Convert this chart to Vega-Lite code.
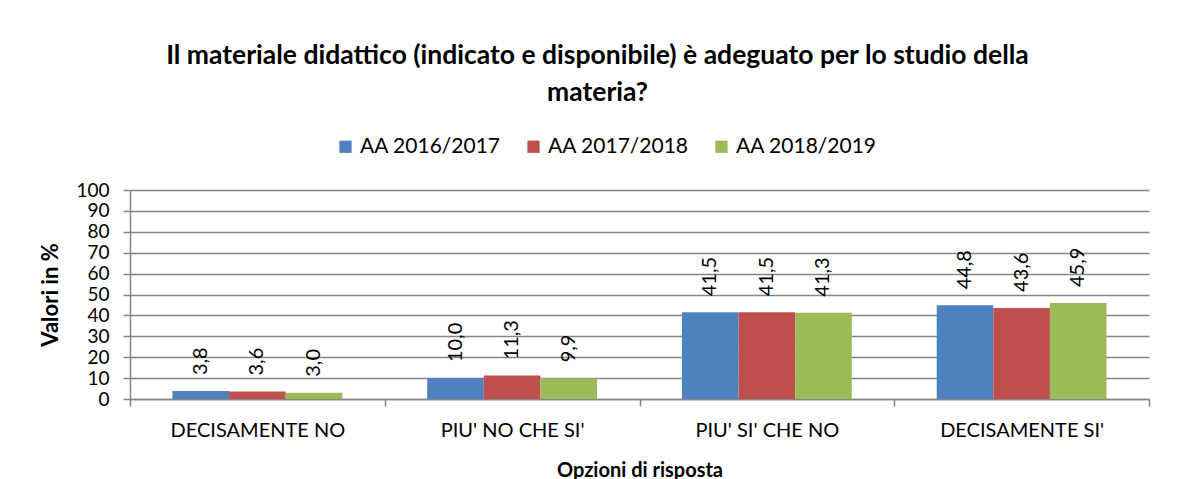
{
  "$schema": "https://vega.github.io/schema/vega-lite/v6.json",
  "width": 1019,
  "height": 209,
  "autosize": "none",
  "padding": {"left": 130, "top": 190, "right": 41, "bottom": 80},
  "config": {
    "locale": {"number": {"decimal": ",", "thousands": ".", "grouping": [3], "currency": ["", " €"]}},
    "font": "Lato",
    "view": {"stroke": null}
  },
  "title": {
    "text": ["Il materiale didattico (indicato e disponibile) è adeguato per lo studio della", "materia?"],
    "font": "Lato",
    "fontSize": 26.5,
    "fontWeight": "bold",
    "color": "black",
    "anchor": "middle",
    "dx": -42,
    "offset": 30,
    "lineHeight": 37
  },
  "data": {
    "values": [
      {"opzione": "DECISAMENTE NO", "anno": "AA 2016/2017", "valore": 3.8},
      {"opzione": "DECISAMENTE NO", "anno": "AA 2017/2018", "valore": 3.6},
      {"opzione": "DECISAMENTE NO", "anno": "AA 2018/2019", "valore": 3.0},
      {"opzione": "PIU' NO CHE SI'", "anno": "AA 2016/2017", "valore": 10.0},
      {"opzione": "PIU' NO CHE SI'", "anno": "AA 2017/2018", "valore": 11.3},
      {"opzione": "PIU' NO CHE SI'", "anno": "AA 2018/2019", "valore": 9.9},
      {"opzione": "PIU' SI' CHE NO", "anno": "AA 2016/2017", "valore": 41.5},
      {"opzione": "PIU' SI' CHE NO", "anno": "AA 2017/2018", "valore": 41.5},
      {"opzione": "PIU' SI' CHE NO", "anno": "AA 2018/2019", "valore": 41.3},
      {"opzione": "DECISAMENTE SI'", "anno": "AA 2016/2017", "valore": 44.8},
      {"opzione": "DECISAMENTE SI'", "anno": "AA 2017/2018", "valore": 43.6},
      {"opzione": "DECISAMENTE SI'", "anno": "AA 2018/2019", "valore": 45.9}
    ]
  },
  "encoding": {
    "x": {
      "field": "opzione",
      "type": "nominal",
      "sort": null,
      "scale": {"paddingInner": 0, "paddingOuter": 0},
      "axis": {
        "title": "Opzioni di risposta",
        "titleFont": "Lato",
        "titleFontSize": 20,
        "titleFontWeight": "bold",
        "titleColor": "black",
        "titlePadding": 20,
        "labelAngle": 0,
        "labelFontSize": 20,
        "labelColor": "black",
        "labelPadding": 14,
        "tickBand": "extent",
        "tickSize": 7,
        "tickColor": "#868686",
        "tickWidth": 1.5,
        "domainColor": "#868686",
        "domainWidth": 1.5
      }
    },
    "xOffset": {
      "field": "anno",
      "type": "nominal",
      "scale": {"paddingInner": 0, "paddingOuter": 0.75}
    },
    "y": {
      "field": "valore",
      "type": "quantitative",
      "scale": {"domain": [0, 100], "nice": false},
      "axis": {
        "title": "Valori in %",
        "titleFont": "Lato",
        "titleFontSize": 22,
        "titleFontWeight": "bold",
        "titleColor": "black",
        "titlePadding": 13,
        "values": [0, 10, 20, 30, 40, 50, 60, 70, 80, 90, 100],
        "labelOverlap": false,
        "labelFontSize": 19,
        "labelColor": "black",
        "labelPadding": 14,
        "tickSize": 7,
        "tickColor": "#868686",
        "tickWidth": 1.5,
        "gridColor": "#868686",
        "gridWidth": 1.5,
        "domainColor": "#868686",
        "domainWidth": 1.5
      }
    }
  },
  "layer": [
    {
      "mark": {"type": "bar"},
      "encoding": {
        "color": {
          "field": "anno",
          "type": "nominal",
          "scale": {"domain": ["AA 2016/2017", "AA 2017/2018", "AA 2018/2019"], "range": ["#4F81BD", "#C0504D", "#9BBB59"]},
          "legend": {
            "title": null,
            "orient": "none",
            "direction": "horizontal",
            "legendX": 205,
            "legendY": -54,
            "symbolType": "square",
            "symbolSize": 150,
            "symbolStrokeWidth": 0,
            "labelFontSize": 21,
            "labelColor": "black",
            "labelOffset": 4,
            "columnPadding": 22
          }
        }
      }
    },
    {
      "mark": {"type": "text", "angle": 270, "align": "left", "baseline": "middle", "dx": 16, "fontSize": 20, "color": "black"},
      "encoding": {
        "text": {"field": "valore", "type": "quantitative", "format": ".1f"}
      }
    }
  ]
}
